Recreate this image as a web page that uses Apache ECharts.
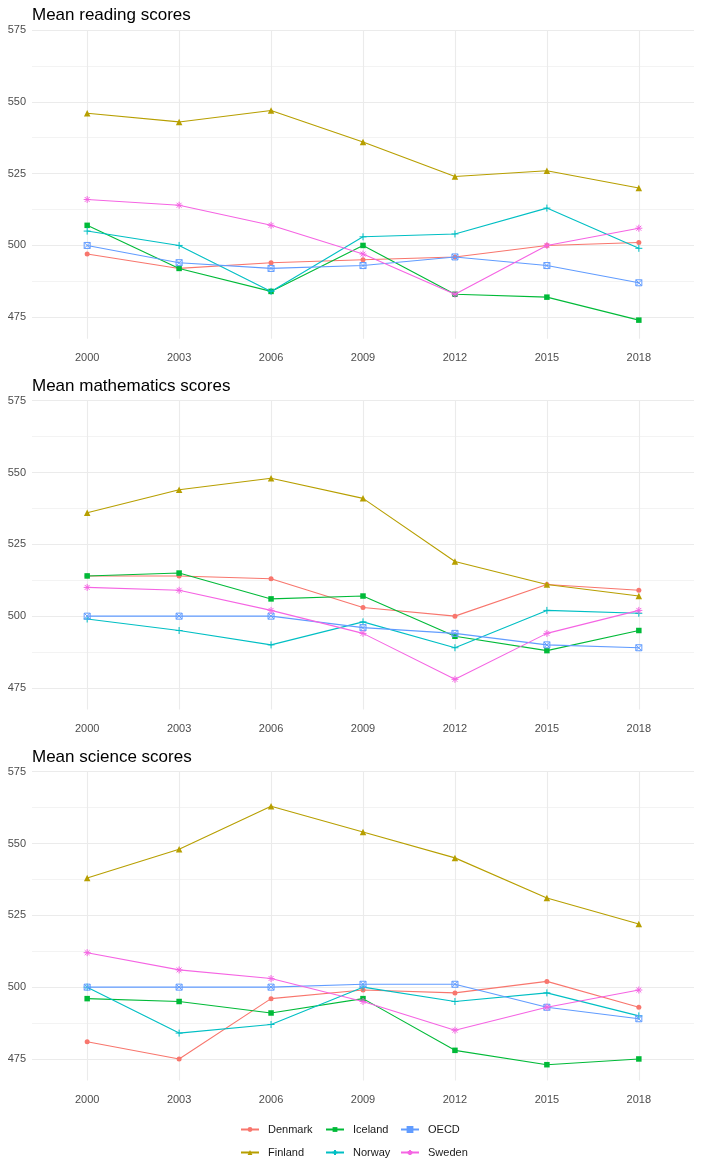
<!DOCTYPE html>
<html><head><meta charset="utf-8">
<script src="https://cdn.jsdelivr.net/npm/echarts@6/dist/echarts.min.js"></script>
<style>html,body{margin:0;padding:0;background:#fff}#c{width:702px;height:1170px}</style>
</head><body><div id="c"></div>
<script>
// ---------- data ----------
const years = ['2000', '2003', '2006', '2009', '2012', '2015', '2018'];
const countries = ['Denmark', 'Finland', 'Iceland', 'Norway', 'OECD', 'Sweden'];
const panelTitles = ['Mean reading scores', 'Mean mathematics scores', 'Mean science scores'];
const yTicks = [475, 500, 525, 550, 575];
const yMinorTicks = [487.5, 512.5, 537.5, 562.5];

const readingDenmark = [497, 492, 494, 495, 496, 500, 501];
const readingFinland = [546, 543, 547, 536, 524, 526, 520];
const readingIceland = [507, 492, 484, 500, 483, 482, 474];
const readingNorway  = [505, 500, 484, 503, 504, 513, 499];
const readingOECD    = [500, 494, 492, 493, 496, 493, 487];
const readingSweden  = [516, 514, 507, 497, 483, 500, 506];

const mathDenmark = [514, 514, 513, 503, 500, 511, 509];
const mathFinland = [536, 544, 548, 541, 519, 511, 507];
const mathIceland = [514, 515, 506, 507, 493, 488, 495];
const mathNorway  = [499, 495, 490, 498, 489, 502, 501];
const mathOECD    = [500, 500, 500, 496, 494, 490, 489];
const mathSweden  = [510, 509, 502, 494, 478, 494, 502];

const scienceDenmark = [481, 475, 496, 499, 498, 502, 493];
const scienceFinland = [538, 548, 563, 554, 545, 531, 522];
const scienceIceland = [496, 495, 491, 496, 478, 473, 475];
const scienceNorway  = [500, 484, 487, 500, 495, 498, 490];
const scienceOECD    = [500, 500, 500, 501, 501, 493, 489];
const scienceSweden  = [512, 506, 503, 495, 485, 493, 499];

const panelData = [
  [readingDenmark, readingFinland, readingIceland, readingNorway, readingOECD, readingSweden],
  [mathDenmark, mathFinland, mathIceland, mathNorway, mathOECD, mathSweden],
  [scienceDenmark, scienceFinland, scienceIceland, scienceNorway, scienceOECD, scienceSweden]
];

// ---------- styles ----------
const FONT = '"Liberation Sans", Arial, Helvetica, sans-serif';
const colors = ['#F8766D', '#B79F00', '#00BA38', '#00BFC4', '#619CFF', '#F564E3'];
const TRANSP = 'rgba(0,0,0,0)';
const symbolStyles = [
  { symbol: 'circle', symbolSize: 5, stroke: false },
  { symbol: 'triangle', symbolSize: 6.5, stroke: false },
  { symbol: 'rect', symbolSize: 5.5, stroke: false },
  { symbol: 'path://M5,0 L5,10 M0,5 L10,5', symbolSize: 7, stroke: true },
  { symbol: 'path://M0,0 L10,0 L10,10 L0,10 Z M0,0 L10,10 M10,0 L0,10', symbolSize: 6, stroke: true },
  { symbol: 'path://M5,0 L5,10 M0,5 L10,5 M1.5,1.5 L8.5,8.5 M8.5,1.5 L1.5,8.5', symbolSize: 7, stroke: true }
];
const gridTops = [30, 400.7, 771.7];
const gridHeight = 308.8;
const GRID_COLOR = '#ebebeb';

const grids = [], xAxes = [], yAxes = [], series = [], titles = [];
panelTitles.forEach((t, k) => {
  titles.push({
    text: t, left: 32, top: gridTops[k] - 23, padding: 0,
    textStyle: { fontFamily: FONT, fontSize: 17, fontWeight: 'normal', color: '#000' }
  });
  grids.push({ left: 32, width: 662, top: gridTops[k], height: gridHeight });
  xAxes.push({
    type: 'value', gridIndex: k, min: -0.6, max: 6.6,
    axisLine: { show: false }, axisTick: { show: false }, splitLine: { show: false },
    axisLabel: {
      customValues: years.map((_, i) => i),
      formatter: v => years[Math.round(v)],
      color: '#4d4d4d', fontSize: 11, margin: 13.5, fontFamily: FONT
    }
  });
  yAxes.push({
    type: 'value', gridIndex: k, min: 467.5, max: 575,
    axisLine: { show: false }, axisTick: { show: false }, splitLine: { show: false },
    axisLabel: {
      customValues: yTicks,
      color: '#4d4d4d', fontSize: 11, margin: 6, fontFamily: FONT
    }
  });
  const gl = [];
  yMinorTicks.forEach(v => gl.push({ yAxis: v, lineStyle: { color: GRID_COLOR, width: 0.6, type: 'solid' } }));
  yTicks.forEach(v => gl.push({ yAxis: v, lineStyle: { color: GRID_COLOR, width: 1.1, type: 'solid' } }));
  years.forEach((_, i) => gl.push({ xAxis: i, lineStyle: { color: GRID_COLOR, width: 1.1, type: 'solid' } }));
  series.push({
    type: 'line', xAxisIndex: k, yAxisIndex: k, data: [], silent: true, z: 0,
    markLine: { silent: true, z: 0, zlevel: 0, symbol: 'none', label: { show: false }, animation: false, data: gl }
  });
  countries.forEach((c, j) => {
    const s = symbolStyles[j];
    series.push({
      name: c, type: 'line', xAxisIndex: k, yAxisIndex: k, z: 10 + j,
      data: panelData[k][j].map((v, i) => [i, v]),
      symbol: s.symbol, symbolSize: s.symbolSize, showSymbol: true,
      lineStyle: { color: colors[j], width: 1.1 },
      itemStyle: s.stroke
        ? { color: TRANSP, borderColor: colors[j], borderWidth: 1 }
        : { color: colors[j], borderWidth: 0 },
      emphasis: { disabled: true },
      animation: false
    });
  });
});

const legendCols = [['Denmark', 'Finland'], ['Iceland', 'Norway'], ['OECD', 'Sweden']];
const legendLefts = [240, 325, 400];
const legends = legendCols.map((d, i) => ({
  data: d, orient: 'vertical', left: legendLefts[i], top: 1124,
  itemWidth: 18, itemHeight: 6, itemGap: 12, padding: 0, selectedMode: false,
  textStyle: { fontSize: 11, color: '#1a1a1a', fontFamily: FONT, padding: [0, 0, 0, 4] }
}));

const chart = echarts.init(document.getElementById('c'), null, { renderer: 'canvas' });
chart.setOption({
  backgroundColor: '#fff',
  animation: false,
  title: titles,
  grid: grids,
  xAxis: xAxes,
  yAxis: yAxes,
  legend: legends,
  series: series
});
</script></body></html>
